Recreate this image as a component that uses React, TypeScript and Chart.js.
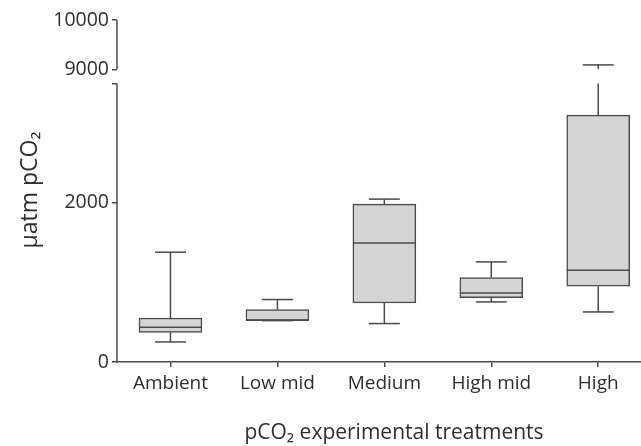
import React, { useEffect, useRef } from "react";
import { Chart, registerables } from "chart.js";

Chart.register(...registerables);

const categories = ["Ambient", "Low mid", "Medium", "High mid", "High"];
const minValues = [252, 520, 483, 755, 629];
const q1Values = [373, 522, 742, 810, 952];
const medianValues = [436, 525, 1497, 868, 1153];
const q3Values = [553, 659, 1984, 1062, 3103];
const maxValues = [1380, 785, 2047, 1258, 9090];
const tickValues = [0, 2000, 3500, 9000, 10000];
const tickLabels = ["0", "2000", "", "9000", "10000"];

// broken axis: lower segment 0..3500, upper segment 9000..10000
const LOW_MAX = 3500;
const HIGH_MIN = 9000;
const HIGH_MAX = 10000;
const LOW_LEN = 278.25;
const GAP_LEN = 14.15;
const HIGH_LEN = 49.3;
const AXIS_MAX = LOW_LEN + GAP_LEN + HIGH_LEN;

function toAxis(v: number): number {
  if (v <= LOW_MAX) return (v / LOW_MAX) * LOW_LEN;
  return LOW_LEN + GAP_LEN + ((v - HIGH_MIN) / (HIGH_MAX - HIGH_MIN)) * HIGH_LEN;
}

const FONT = "'Open Sans', sans-serif";
const LINE = "#4a4a4a";
const TEXT = "#2e2e2e";

const boxPlugin = {
  id: "boxExtras",
  afterDatasetsDraw(chart: any) {
    const { ctx, scales, chartArea } = chart;
    const xs = scales.x;
    const ys = scales.y;
    ctx.save();
    ctx.strokeStyle = LINE;
    ctx.lineWidth = 1.5;
    const capHalf = 15.5;
    const boxHalf = 31.5;
    const line = (x1: number, y1: number, x2: number, y2: number) => {
      ctx.beginPath();
      ctx.moveTo(x1, y1);
      ctx.lineTo(x2, y2);
      ctx.stroke();
    };
    categories.forEach((_, i) => {
      const cx = xs.getPixelForValue(i);
      const yMin = ys.getPixelForValue(toAxis(minValues[i]));
      const yQ1 = ys.getPixelForValue(toAxis(q1Values[i]));
      const yMed = ys.getPixelForValue(toAxis(medianValues[i]));
      const yQ3 = ys.getPixelForValue(toAxis(q3Values[i]));
      const yMax = ys.getPixelForValue(toAxis(maxValues[i]));
      line(cx, yQ1, cx, yMin);
      line(cx - capHalf, yMin, cx + capHalf, yMin);
      if (maxValues[i] > LOW_MAX && q3Values[i] <= LOW_MAX) {
        line(cx, yQ3, cx, ys.getPixelForValue(toAxis(LOW_MAX)));
        line(cx, ys.getPixelForValue(toAxis(HIGH_MIN)), cx, yMax);
      } else {
        line(cx, yQ3, cx, yMax);
      }
      line(cx - capHalf, yMax, cx + capHalf, yMax);
      line(cx - boxHalf, yMed, cx + boxHalf, yMed);
    });
    const ax = chartArea.left;
    line(ax, ys.getPixelForValue(0) + 0.75, ax, ys.getPixelForValue(toAxis(LOW_MAX)));
    line(ax, ys.getPixelForValue(toAxis(HIGH_MIN)), ax, ys.getPixelForValue(toAxis(HIGH_MAX)));
    ctx.fillStyle = TEXT;
    ctx.textAlign = "center";
    ctx.textBaseline = "middle";
    ctx.font = `21px ${FONT}`;
    ctx.fillText("pCO\u2082 experimental treatments", 394, 433);
    ctx.font = `23px ${FONT}`;
    ctx.translate(30, 190);
    ctx.rotate(-Math.PI / 2);
    ctx.fillText("\u00B5atm pCO\u2082", 0, 0);
    ctx.restore();
  },
};

export default function App() {
  const ref = useRef<HTMLCanvasElement | null>(null);
  useEffect(() => {
    if (!ref.current) return;
    const chart = new Chart(ref.current, {
      type: "bar",
      data: {
        datasets: [
          {
            data: categories.map((_, i) => ({
              x: i,
              y: [toAxis(q1Values[i]), toAxis(q3Values[i])],
            })) as any,
            backgroundColor: "#d4d4d4",
            borderColor: LINE,
            borderWidth: 1.5,
            borderSkipped: false,
            barThickness: 63,
          },
        ],
      },
      options: {
        animation: false,
        responsive: true,
        maintainAspectRatio: false,
        layout: { padding: { top: 20, right: 0, left: 0, bottom: 0 } },
        plugins: {
          legend: { display: false },
          tooltip: { enabled: false },
        },
        scales: {
          x: {
            type: "linear",
            min: -0.5,
            max: 4.4,
            offset: false,
            afterBuildTicks: (s: any) => {
              s.ticks = categories.map((_, i) => ({ value: i }));
            },
            afterFit: (s: any) => {
              s.height = 84;
            },
            ticks: {
              callback: (v: any) => categories[Math.round(Number(v))] ?? "",
              font: { family: FONT, size: 19 },
              color: TEXT,
              padding: 5,
              maxRotation: 0,
              autoSkip: false,
            },
            grid: {
              display: true,
              offset: false,
              drawOnChartArea: false,
              drawTicks: true,
              tickLength: 5,
              color: LINE,
              lineWidth: 1.5,
            },
            border: { display: true, color: LINE, width: 1.5 },
          },
          y: {
            type: "linear",
            min: 0,
            max: AXIS_MAX,
            afterBuildTicks: (s: any) => {
              s.ticks = tickValues.map((v) => ({ value: toAxis(v) }));
            },
            afterFit: (s: any) => {
              s.width = 117;
            },
            ticks: {
              callback: (_v: any, idx: number) => tickLabels[idx],
              font: { family: FONT, size: 19.5 },
              color: TEXT,
              padding: 3,
              autoSkip: false,
            },
            grid: {
              display: true,
              drawOnChartArea: false,
              drawTicks: true,
              tickLength: 5,
              color: LINE,
              lineWidth: 1.5,
            },
            border: { display: false },
          },
        },
      },
      plugins: [boxPlugin],
    });
    return () => chart.destroy();
  }, []);
  return (
    <div style={{ position: "absolute", left: 0, top: 0, width: 641, height: 446, background: "#fff" }}>
      <canvas ref={ref} />
    </div>
  );
}
